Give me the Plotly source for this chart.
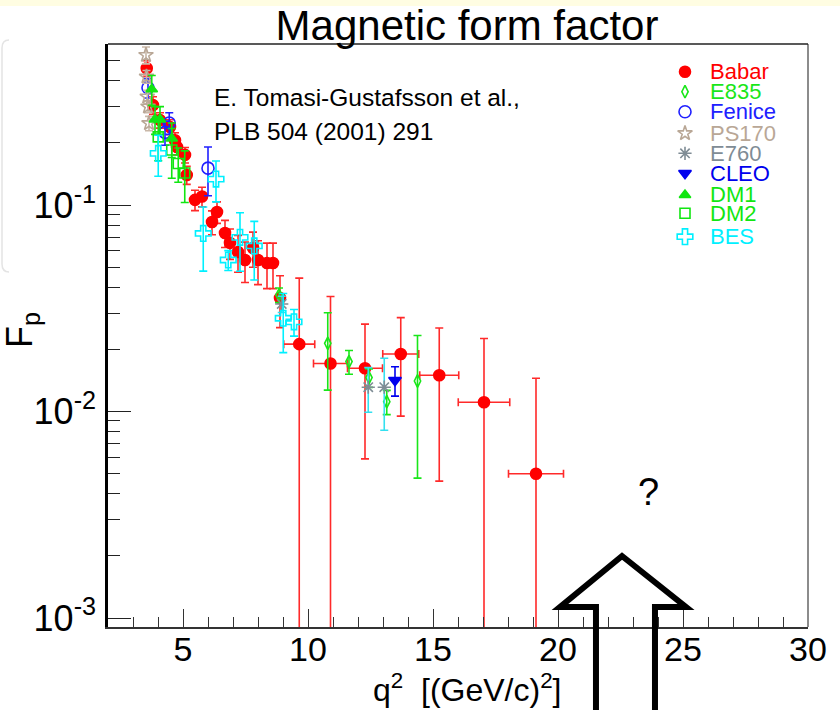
import plotly.graph_objects as go

# ---------------- data: proton magnetic form factor, time-like region ----------------
babar_q2 = [3.55, 3.80, 4.08, 4.48, 4.68, 4.76, 5.08, 5.15, 5.48, 5.76, 6.16, 6.36, 6.68, 6.88,
            7.20, 7.48, 7.80, 8.00, 8.36, 8.60, 8.88, 9.65, 10.90, 12.28, 13.71, 15.25, 17.04, 19.12]
babar_fp = [0.460, 0.305, 0.258, 0.239, 0.206, 0.191, 0.175, 0.140, 0.106, 0.110, 0.0828, 0.0926,
            0.0733, 0.0656, 0.0593, 0.0542, 0.0620, 0.0542, 0.0524, 0.0524, 0.0355, 0.0212, 0.0171,
            0.0162, 0.0190, 0.0150, 0.0111, 0.0050]
babar_dfp = [0.040, 0.030, 0.022, 0.020, 0.018, 0.016, 0.015, 0.014, 0.012, 0.012, 0.011, 0.011,
             0.011, 0.011, 0.012, 0.012, 0.012, 0.013, 0.013, 0.013, 0.010, 0.0231, 0.0190,
             0.0103, 0.0095, 0.0104, 0.0115, 0.0095]
babar_dq2 = [0] * 21 + [0.62, 0.68, 0.70, 0.72, 0.78, 1.03, 1.10]

e835_q2 = [8.84, 10.79, 11.64, 12.44, 13.15, 14.38]
e835_fp = [0.0367, 0.0214, 0.01746, 0.0146, 0.01116, 0.01406]
e835_dfp = [0.0030, 0.0087, 0.0023, 0.0015, 0.0015, 0.0093]

fenice_q2 = [3.60, 4.28, 4.45, 6.00]
fenice_fp = [0.370, 0.225, 0.250, 0.151]
fenice_dfp = [0.040, 0.030, 0.030, 0.040]

ps170_q2 = [3.52, 3.54, 3.57, 3.60, 3.64]
ps170_fp = [0.533, 0.419, 0.335, 0.300, 0.249]
ps170_dfp = [0.050, 0.030, 0.025, 0.020, 0.020]

e760_q2 = [8.95, 12.41, 13.05]
e760_fp = [0.0332, 0.01312, 0.01312]
e760_dfp = [0.0030, 0.0032, 0.0050]

cleo_q2 = [13.48]
cleo_fp = [0.01418]
cleo_dfp = [0.0023]

dm1_q2 = [3.75, 3.88, 4.08, 4.55]
dm1_fp = [0.364, 0.260, 0.260, 0.210]
dm1_dfp = [0.060, 0.040, 0.040, 0.040]

dm2_q2 = [4.01, 4.55, 4.81, 5.07]
dm2_fp = [0.214, 0.185, 0.159, 0.143]
dm2_dfp = [0.050, 0.050, 0.030, 0.040]

bes_q2 = [4.01, 5.81, 6.32, 6.81, 7.28, 7.85, 9.01, 9.44]
bes_fp = [0.178, 0.0729, 0.1336, 0.0542, 0.0698, 0.0634, 0.0283, 0.0272]
bes_dfp = [0.040, 0.025, 0.030, 0.006, 0.022, 0.020, 0.009, 0.004]

x_major = [5, 10, 15, 20, 25, 30]
x_minor = [v for v in range(3, 30) if v % 5 != 0]
y_major = [1e-3, 1e-2, 1e-1]
y_major_text = ["10<sup>-3</sup>", "10<sup>-2</sup>", "10<sup>-1</sup>"]
y_minor = [m * 10.0 ** e for e in (-3, -2, -1) for m in range(2, 10) if m * 10.0 ** e < 0.6]

FONT = "Liberation Sans, Arial, Helvetica, sans-serif"

# name, x, y, dy, dx, symbol, marker colour, error colour, marker size
series = [
    ("Babar", babar_q2, babar_fp, babar_dfp, babar_dq2, "circle", "#ff0000", "#ff2a2a", 11),
    ("E835", e835_q2, e835_fp, e835_dfp, None, "diamond-tall-open", "#19e619", "#19e619", 9),
    ("Fenice", fenice_q2, fenice_fp, fenice_dfp, None, "circle-open", "#2020ff", "#2020ff", 12),
    ("PS170", ps170_q2, ps170_fp, ps170_dfp, None, "star-open", "#b9a796", "#c9b8a8", 11),
    ("E760", e760_q2, e760_fp, e760_dfp, None, "asterisk-open", "#7f8c95", "#33e0f0", 11),
    ("CLEO", cleo_q2, cleo_fp, cleo_dfp, None, "triangle-down", "#0000ee", "#0000ee", 11),
    ("DM1", dm1_q2, dm1_fp, dm1_dfp, None, "triangle-up", "#11e611", "#11e611", 10),
    ("DM2", dm2_q2, dm2_fp, dm2_dfp, None, "square-open", "#11e611", "#11e611", 10),
    ("BES", bes_q2, bes_fp, bes_dfp, None, "cross-open", "#00f0ff", "#00f0ff", 13),
]

fig = go.Figure()

for name, xs, ys, dys, dxs, sym, col, ecol, size in series:
    tr = dict(
        x=xs, y=ys, mode="markers", name=name, showlegend=False,
        marker=dict(symbol=sym, color=col, size=size, line=dict(width=1.6, color=col)),
        error_y=dict(type="data", array=dys, color=ecol, thickness=1.6, width=4),
        cliponaxis=True,
    )
    if dxs is not None:
        tr["error_x"] = dict(type="data", array=dxs, color=ecol, thickness=1.6, width=4)
    fig.add_trace(go.Scatter(**tr))

# ---- legend: swatches on an overlay axis spanning the frame, labels as coloured text ----
px_l, px_r, px_t, px_b = 108, 808, 44, 627
W, H = px_r - px_l, px_b - px_t


def fx(px):
    return (px - px_l) / W


def fy(py):
    return (px_b - py) / H


legend_rows = [71.7, 91.7, 111.7, 133.3, 153.3, 173.3, 195.0, 213.3, 236.7]
for (name, xs, ys, dys, dxs, sym, col, ecol, size), row in zip(series, legend_rows):
    fig.add_trace(go.Scatter(
        x=[fx(685)], y=[fy(row)], xaxis="x2", yaxis="y2", mode="markers",
        showlegend=False, hoverinfo="skip",
        marker=dict(symbol=sym, color=col, size=size, line=dict(width=1.6, color=col)),
    ))
    fig.add_annotation(
        x=fx(708), y=fy(row), xref="paper", yref="paper", text=name, showarrow=False,
        xanchor="left", yanchor="middle", font=dict(family=FONT, size=22, color=col),
    )

annotations = [
    dict(x=fx(212), y=fy(98), text="E. Tomasi-Gustafsson et al.,", size=24.5, xanchor="left"),
    dict(x=fx(212), y=fy(131), text="PLB 504 (2001) 291", size=24.5, xanchor="left"),
    dict(x=fx(467), y=fy(688), text="q<sup>2</sup>  [(GeV/c)<sup>2</sup>]", size=32, xanchor="center"),
    dict(x=fx(648), y=fy(492), text="?", size=38, xanchor="center"),
]
for a in annotations:
    fig.add_annotation(
        x=a["x"], y=a["y"], xref="paper", yref="paper", text=a["text"], showarrow=False,
        xanchor=a["xanchor"], yanchor="middle", font=dict(family=FONT, size=a["size"], color="black"),
    )
fig.add_annotation(
    x=fx(22), y=fy(330), xref="paper", yref="paper", text="F<sub>p</sub>", showarrow=False,
    textangle=-90, xanchor="center", yanchor="middle", font=dict(family=FONT, size=36, color="black"),
)

# ---- decorations: outline arrow pointing at the unmeasured region, slide trim ----
arrow_pts = [(596, 714), (596, 607), (560, 607), (622, 556), (686, 607), (655, 607), (655, 714)]
arrow_path = "M " + " L ".join(f"{fx(a):.4f},{fy(b):.4f}" for a, b in arrow_pts)
shapes = [
    dict(type="path", path=arrow_path, xref="paper", yref="paper",
         line=dict(color="black", width=6), layer="above"),
    dict(type="rect", x0=fx(0), x1=fx(840), y0=fy(6), y1=fy(0), xref="paper", yref="paper",
         fillcolor="#fffde2", line=dict(width=0), layer="below"),
    dict(type="path", xref="paper", yref="paper", layer="below",
         path=f"M {fx(9)},{fy(40)} Q {fx(2)},{fy(40)} {fx(2)},{fy(48)} L {fx(2)},{fy(264)} "
              f"Q {fx(2)},{fy(272)} {fx(9)},{fy(272)}",
         line=dict(color="#e4e4e4", width=1.5)),
    dict(type="line", xref="paper", yref="paper", x0=1, x1=1, y0=0, y1=1,
         line=dict(color="#666666", width=1.5)),
    dict(type="line", xref="paper", yref="paper", x0=0, x1=1, y0=1, y1=1,
         line=dict(color="#222222", width=1.5)),
]

fig.update_layout(
    width=840, height=710,
    margin=dict(l=px_l, r=840 - px_r, t=px_t, b=710 - px_b),
    paper_bgcolor="white", plot_bgcolor="white",
    title=dict(text="Magnetic form factor", x=467 / 840, xanchor="center",
               y=1 - 25 / 710, yanchor="middle", yref="container",
               font=dict(family=FONT, size=42, color="black")),
    xaxis=dict(
        range=[2, 30], showgrid=False, zeroline=False,
        showline=True, linecolor="#333333", linewidth=1.5,
        ticks="inside", ticklen=18, tickwidth=1.3, tickcolor="#333333",
        tickvals=x_major, ticktext=[str(v) for v in x_major],
        tickfont=dict(family=FONT, size=34, color="black"), ticklabelstandoff=-9,
        minor=dict(ticks="inside", ticklen=10, tickwidth=1.3, tickcolor="#333333", tickvals=x_minor),
    ),
    yaxis=dict(
        type="log", range=[-3.0436, -0.2197], showgrid=False, zeroline=False,
        showline=True, linecolor="black", linewidth=2.5,
        ticks="inside", ticklen=23, tickwidth=1.3, tickcolor="#222222",
        tickvals=y_major, ticktext=y_major_text,
        tickfont=dict(family=FONT, size=36, color="black"), ticklabelstandoff=2,
        minor=dict(ticks="inside", ticklen=12, tickwidth=1.3, tickcolor="#222222", tickvals=y_minor),
    ),
    xaxis2=dict(overlaying="x", range=[0, 1], visible=False),
    yaxis2=dict(overlaying="y", range=[0, 1], visible=False),
    shapes=shapes,
    showlegend=False,
)

fig.write_html("out.html")
